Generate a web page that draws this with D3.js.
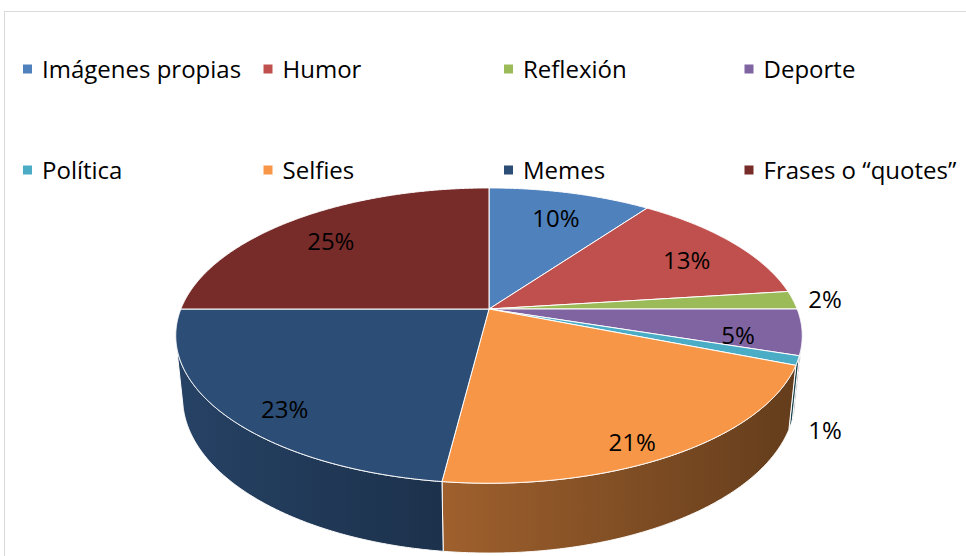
<!DOCTYPE html>
<html>
<head>
<meta charset="utf-8">
<script src="https://cdn.jsdelivr.net/npm/d3@7"></script>
<style>
  body { margin: 0; background: #fff; }
  svg { display: block; font-family: "Open Sans", "Liberation Sans", sans-serif; }
</style>
</head>
<body>
<svg id="chart" width="966" height="556"></svg>
<script>
// Pie data, clockwise from 12 o'clock
const categories = ['Imágenes propias', 'Humor', 'Reflexión', 'Deporte', 'Política', 'Selfies', 'Memes', 'Frases o “quotes”'];
const values = [10, 13, 2, 5, 1, 21, 23, 25];
const colors = ['#4F81BD', '#C0504D', '#9BBB59', '#8064A2', '#4BACC6', '#F79646', '#2C4D75', '#772C2A'];

const svg = d3.select('#chart');
const defs = svg.append('defs');

// chart area border
svg.append('rect')
    .attr('x', 4.5).attr('y', 11.5)
    .attr('width', 1000).attr('height', 600)
    .attr('fill', 'none')
    .attr('stroke', '#d9d9d9');

// perspective camera for the tilted disc (radius 1, thickness h)
const cam = { cx: 489, cy: 309, f: 1516, D: 4.92, phi: Math.asin(0.4636), h: 0.229 };

function proj(a, r, z) {
    const X = r * Math.sin(a), Y = -r * Math.cos(a);
    const depth = cam.D - Y * Math.cos(cam.phi) - z * Math.sin(cam.phi);
    return [cam.cx + cam.f * X / depth,
            cam.cy + cam.f * (Y * Math.sin(cam.phi) - z * Math.cos(cam.phi)) / depth];
}

function arcPoints(a0, a1, z) {
    const n = Math.max(2, Math.ceil(Math.abs(a1 - a0) / 0.005));
    return d3.range(n + 1).map(i => proj(a0 + (a1 - a0) * i / n, 1, z));
}

const line = d3.line();
const pie = d3.pie().sort(null).value(d => d)(values);

// visible part of the side wall
const cosLimit = -1 / (cam.D * Math.cos(cam.phi));
const visMin = Math.acos(cosLimit), visMax = 2 * Math.PI - visMin;
const shade = d3.scaleLinear().domain([visMin, visMax]).range([0.38, 0.86]);

const walls = svg.append('g');
pie.forEach((d, i) => {
    const a0 = Math.max(d.startAngle, visMin), a1 = Math.min(d.endAngle, visMax);
    if (a1 <= a0) return;
    const top = arcPoints(a0, a1, 0);
    const bottom = arcPoints(a1, a0, -cam.h);
    const gid = 'wall' + i;
    const g = defs.append('linearGradient').attr('id', gid)
        .attr('gradientUnits', 'userSpaceOnUse')
        .attr('x1', top[0][0]).attr('y1', 0)
        .attr('x2', top[top.length - 1][0]).attr('y2', 0);
    g.append('stop').attr('offset', 0)
        .attr('stop-color', d3.interpolateRgb('#000', colors[i])(shade(a0)));
    g.append('stop').attr('offset', 1)
        .attr('stop-color', d3.interpolateRgb('#000', colors[i])(shade(a1)));
    walls.append('path')
        .attr('d', line(top.concat(bottom)) + 'Z')
        .attr('fill', `url(#${gid})`)
        .attr('stroke', '#fff')
        .attr('stroke-width', 1)
        .attr('stroke-linejoin', 'round');
});

// top faces
svg.append('g').selectAll('path')
    .data(pie)
    .join('path')
    .attr('d', d => line([proj(0, 0, 0)].concat(arcPoints(d.startAngle, d.endAngle, 0))) + 'Z')
    .attr('fill', (d, i) => colors[i])
    .attr('stroke', '#fff')
    .attr('stroke-width', 1)
    .attr('stroke-linejoin', 'round');

// data labels
const fmt = d3.format('.0%');
svg.append('g').selectAll('text')
    .data(pie)
    .join('text')
    .each(function (d) {
        const m = (d.startAngle + d.endAngle) / 2;
        const outside = d.value < 3;
        const frontness = Math.max(0, -Math.cos(m));
        const p = outside ? proj(m, 1.1, frontness > 0 ? -cam.h : 0) : proj(m, 0.8, 0);
        const dy = outside ? 9 : 14 + 18 * frontness;
        d3.select(this).attr('x', p[0] + (outside ? 2 : 0)).attr('y', p[1] + dy);
    })
    .attr('text-anchor', 'middle')
    .attr('font-size', 24)
    .attr('fill', '#000')
    .text(d => fmt(d.value / 100));

// legend, 4 columns x 2 rows
const legX = d3.scaleLinear().domain([0, 1]).range([23, 263.5]);
const legY = d3.scaleLinear().domain([0, 1]).range([69, 170]);
const leg = svg.append('g').selectAll('g')
    .data(categories)
    .join('g')
    .attr('transform', (d, i) => `translate(${legX(i % 4)},${legY(Math.floor(i / 4))})`);
leg.append('rect')
    .attr('x', 0).attr('y', -4.5)
    .attr('width', 9).attr('height', 9)
    .attr('fill', (d, i) => colors[i]);
leg.append('text')
    .attr('x', 19).attr('y', 8.5)
    .attr('font-size', 24)
    .attr('fill', '#000')
    .text(d => d);
</script>
</body>
</html>
